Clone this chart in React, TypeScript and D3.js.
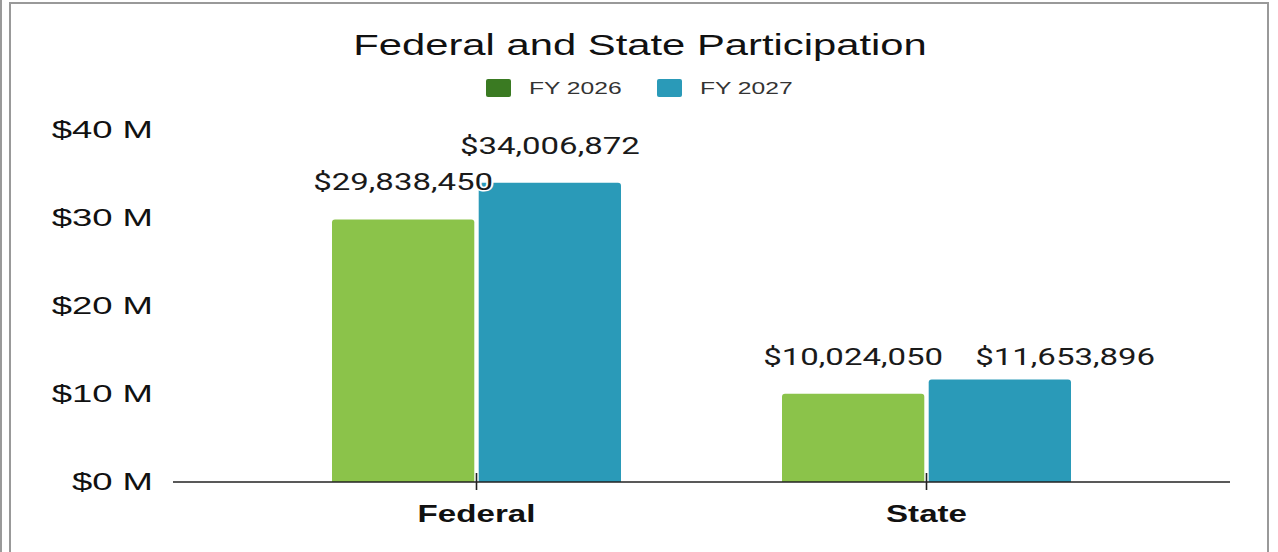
import React from "react";
import * as d3 from "d3";

const categories = ["Federal", "State"];
const seriesNames = ["FY 2026", "FY 2027"];
const fy2026 = [29838450, 10024050];
const fy2027 = [34006872, 11653896];
const yTicks = [0, 10e6, 20e6, 30e6, 40e6];
const title = "Federal and State Participation";

const barColors = ["#8bc34a", "#2a9ab8"];
const legendColors = ["#3a7a22", "#2a9ab8"];

const W = 1278;
const H = 552;

function topRoundedRect(x: number, y: number, w: number, h: number, r: number) {
  const rr = Math.min(r, h, w / 2);
  return `M${x},${y + h}V${y + rr}Q${x},${y} ${x + rr},${y}H${x + w - rr}Q${x + w},${y} ${x + w},${y + rr}V${y + h}Z`;
}

export default function App() {
  const y = d3.scaleLinear().domain([0, 40e6]).range([482, 130]);
  const x0 = d3.scalePoint<string>().domain(categories).range([476.5, 926.5]);
  const x1 = d3.scaleBand<string>().domain(seriesNames).range([-144.5, 144.5]).paddingInner(0.03);
  const fmt = (v: number) => "$" + d3.format(",")(v);
  const series = [fy2026, fy2027];

  const sxTitle = 1.393;
  const sxTick = 1.52;
  const sxLegend = 1.45;
  const sxCat = 1.44;
  const sxVal = 1.375;

  // label placement (simple collision avoidance as in the reference)
  const labels: { key: string; text: string; x: number; y: number }[] = [];
  categories.forEach((c, ci) => {
    seriesNames.forEach((s, si) => {
      const v = series[si][ci];
      let cx = (x0(c) as number) + (x1(s) as number) + x1.bandwidth() / 2;
      let ly = y(v) - 29;
      const halfW = 90;
      const prev = labels[labels.length - 1];
      if (prev && si > 0 && Math.abs(prev.y - ly) < 26 && cx - halfW < prev.x + halfW + 32) {
        cx = prev.x + 2 * halfW + 32;
        ly = prev.y;
      }
      labels.push({ key: c + s, text: fmt(v), x: cx, y: ly });
    });
  });

  return (
    <svg width={W} height={H} style={{ display: "block", position: "absolute", left: 0, top: 0 }}>
      <rect x={0} y={0} width={W} height={H} fill="#fff" />
      {/* frame */}
      <line x1={1} y1={0} x2={1} y2={H} stroke="#9a9a9a" strokeWidth={2} />
      <path d={`M10,${H}V3H1268V${H}`} fill="none" stroke="#999" strokeWidth={2} />

      {/* title */}
      <text
        transform={`translate(640,55) scale(${sxTitle},1)`}
        textAnchor="middle"
        fontFamily="'Liberation Sans', Arial, sans-serif"
        fontSize={30}
        fill="#111"
      >
        {title}
      </text>

      {/* legend */}
      {seriesNames.map((s, i) => {
        const lx = [486, 657][i];
        return (
          <g key={s}>
            <rect x={lx} y={79} width={25} height={18} rx={2} fill={legendColors[i]} />
            <text
              transform={`translate(${lx + 43},94) scale(${sxLegend},1)`}
              fontFamily="'Liberation Sans', Arial, sans-serif"
              fontSize={17}
              fill="#333"
            >
              {s}
            </text>
          </g>
        );
      })}

      {/* y tick labels */}
      {yTicks.map((t) => (
        <text
          key={t}
          transform={`translate(153,${y(t)}) scale(${sxTick},1)`}
          textAnchor="end"
          dominantBaseline="central"
          fontFamily="'Liberation Sans', Arial, sans-serif"
          fontSize={24}
          fill="#111"
        >
          {`$${t / 1e6} M`}
        </text>
      ))}

      {/* bars */}
      {categories.map((c, ci) =>
        seriesNames.map((s, si) => {
          const v = series[si][ci];
          const bx = (x0(c) as number) + (x1(s) as number);
          const bw = x1.bandwidth();
          const by = y(v);
          return (
            <path
              key={c + s}
              d={topRoundedRect(bx, by, bw, y(0) - by, 3)}
              fill={barColors[si]}
            />
          );
        })
      )}

      {/* axis */}
      <line x1={173} x2={1230} y1={y(0)} y2={y(0)} stroke="#222" strokeWidth={1.6} />
      {categories.map((c) => (
        <g key={c}>
          <line x1={x0(c)} x2={x0(c)} y1={473} y2={490} stroke="#222" strokeWidth={1.6} />
          <text
            transform={`translate(${x0(c)},522) scale(${sxCat},1)`}
            textAnchor="middle"
            fontFamily="'Liberation Sans', Arial, sans-serif"
            fontWeight="bold"
            fontSize={23}
            fill="#111"
          >
            {c}
          </text>
        </g>
      ))}

      {/* value labels */}
      {labels.map((l) => (
        <text
          key={"l" + l.key}
          transform={`translate(${l.x},${l.y}) scale(${sxVal},1)`}
          textAnchor="middle"
          fontFamily="Roboto, 'Liberation Sans', sans-serif"
          fontSize={24}
          fill="#1a1a1a"
          stroke="#fff"
          strokeWidth={3}
          strokeLinejoin="round"
          style={{ paintOrder: "stroke" }}
        >
          {l.text}
        </text>
      ))}
    </svg>
  );
}
